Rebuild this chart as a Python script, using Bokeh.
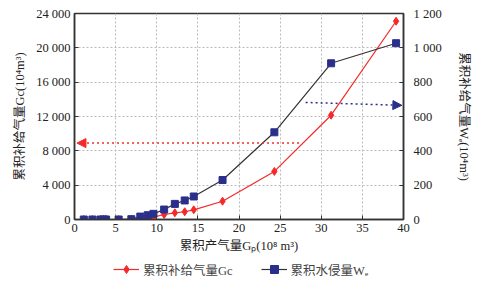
import math
from bokeh.plotting import figure
from bokeh.layouts import column
from bokeh.models import (Range1d, LinearAxis, FixedTicker, Legend, LegendItem,
                          Arrow, NormalHead, ColumnDataSource)
from bokeh.embed import file_html
from bokeh.resources import INLINE

# ---- data ----
gp = [1.13, 2.18, 3.15, 3.55, 3.84, 5.37, 6.91, 8.0, 8.9, 9.6, 10.9, 12.2, 13.4, 14.5, 18.0, 24.3, 31.2, 39.1]
gc = [0, 0, 0, 0, 0, 0, 20, 80, 150, 280, 580, 780, 900, 1130, 2130, 5600, 12150, 23100]
we = [0, 0, 0, 0, 0, 0, 2, 17, 25, 33, 58, 91, 111, 134, 230, 508, 910, 1027]

x_ticks = [0, 5, 10, 15, 20, 25, 30, 35, 40]
y_left_ticks = [0, 4000, 8000, 12000, 16000, 20000, 24000]
y_left_labels = ["0", "4 000", "8 000", "12 000", "16 000", "20 000", "24 000"]
y_right_ticks = [0, 200, 400, 600, 800, 1000, 1200]
y_right_labels = ["0", "200", "400", "600", "800", "1 000", "1 200"]

# annotation arrows (which axis each curve belongs to)
red_arrow = dict(x_start=27.3, y_start=8900, x_end=0.3, y_end=8900)
blue_arrow = dict(x_start=28.1, y_start=682, x_end=39.8, y_end=665)

FONT = "'Liberation Serif', 'Noto Sans CJK SC'"
RED = "#f42a2a"
NAVY = "#2b2f8c"
W = 473

p = figure(width=W, height=258, output_backend="svg", toolbar_location=None,
           x_range=Range1d(0, 40), y_range=Range1d(0, 24000),
           min_border_left=74, min_border_right=W - 404, min_border_top=13, min_border_bottom=39)
p.extra_y_ranges = {"right": Range1d(0, 1200)}

p.outline_line_color = "#333333"
p.outline_line_width = 1.5

p.xgrid.grid_line_color = "#bbbbbb"
p.ygrid.grid_line_color = "#bbbbbb"
p.xgrid.grid_line_dash = "2 2"
p.ygrid.grid_line_dash = "2 2"
p.xaxis.ticker = FixedTicker(ticks=x_ticks)
p.yaxis.ticker = FixedTicker(ticks=y_left_ticks)
p.yaxis.major_label_overrides = {t: l for t, l in zip(y_left_ticks, y_left_labels)}

right = LinearAxis(y_range_name="right", ticker=FixedTicker(ticks=y_right_ticks))
right.major_label_overrides = {t: l for t, l in zip(y_right_ticks, y_right_labels)}
p.add_layout(right, "right")

p.xaxis.axis_label = "累积产气量Gₚ(10⁸ m³)"
p.yaxis.axis_label = "累积补给气量Gc(10⁴m³)"
right.axis_label = "累积补给气量Wₑ(10⁴m³)"
if hasattr(right, "axis_label_orientation"):
    right.axis_label_orientation = "vertical"

for ax in [p.xaxis[0], p.yaxis[0], right]:
    ax.major_label_text_font = FONT
    ax.major_label_text_font_size = "12.5px"
    ax.major_label_text_color = "#222222"
    ax.axis_label_text_font = FONT
    ax.axis_label_text_font_size = "12.5px"
    ax.axis_label_text_font_style = "normal"
    ax.axis_label_text_color = "#222222"
    ax.axis_line_color = "#333333"
    ax.axis_line_width = 1.5
    ax.major_tick_in = 4
    ax.major_tick_out = 0
    ax.major_tick_line_color = "#333333"
    ax.minor_tick_line_color = None
    ax.axis_label_standoff = 6
    ax.major_label_standoff = 4
p.xaxis.axis_label_standoff = 4
right.major_label_standoff = 10
right.axis_label_standoff = 12

src = ColumnDataSource(dict(gp=gp, gc=gc, we=we))

l1 = p.line("gp", "gc", source=src, line_color=RED, line_width=1.2)
m1 = p.scatter("gp", "gc", source=src, marker="diamond", size=8, fill_color=RED, line_color=RED)

l2 = p.line("gp", "we", source=src, y_range_name="right", line_color="#333333", line_width=1.2)
m2 = p.scatter("gp", "we", source=src, y_range_name="right", marker="square", size=7,
               fill_color=NAVY, line_color=NAVY)

p.add_layout(Arrow(end=NormalHead(size=9, fill_color=RED, line_color=RED),
                   line_color=RED, line_dash="2 3", line_width=1.5, **red_arrow))
p.add_layout(Arrow(end=NormalHead(size=9, fill_color=NAVY, line_color=NAVY),
                   line_color=NAVY, line_dash="2 3", line_width=1.5,
                   y_range_name="right", **blue_arrow))

# ---- legend strip below the chart ----
lg = figure(width=W, height=30, output_backend="svg", toolbar_location=None,
            x_range=Range1d(0, 1), y_range=Range1d(0, 1),
            min_border_left=0, min_border_right=0, min_border_top=0, min_border_bottom=0)
lg.axis.visible = False
lg.grid.visible = False
lg.outline_line_color = None
g1 = lg.line(x=[-5, -4], y=[-5, -4], line_color=RED, line_width=1.2)
s1 = lg.scatter(x=[-5], y=[-5], marker="diamond", size=8, fill_color=RED, line_color=RED)
g2 = lg.line(x=[-5, -4], y=[-5, -4], line_color="#333333", line_width=1.2)
s2 = lg.scatter(x=[-5], y=[-5], marker="square", size=7, fill_color=NAVY, line_color=NAVY)

legend = Legend(items=[LegendItem(label="累积补给气量Gc", renderers=[g1, s1]),
                       LegendItem(label="累积水侵量Wₑ", renderers=[g2, s2])],
                orientation="horizontal", location=(39, 9),
                label_text_font=FONT, label_text_font_size="12.5px",
                label_standoff=4, border_line_color=None, background_fill_alpha=0,
                spacing=28, glyph_width=26, padding=0, margin=0)
lg.add_layout(legend)

layout = column(p, lg, spacing=0)
open("out.html", "w").write(file_html(layout, INLINE))
